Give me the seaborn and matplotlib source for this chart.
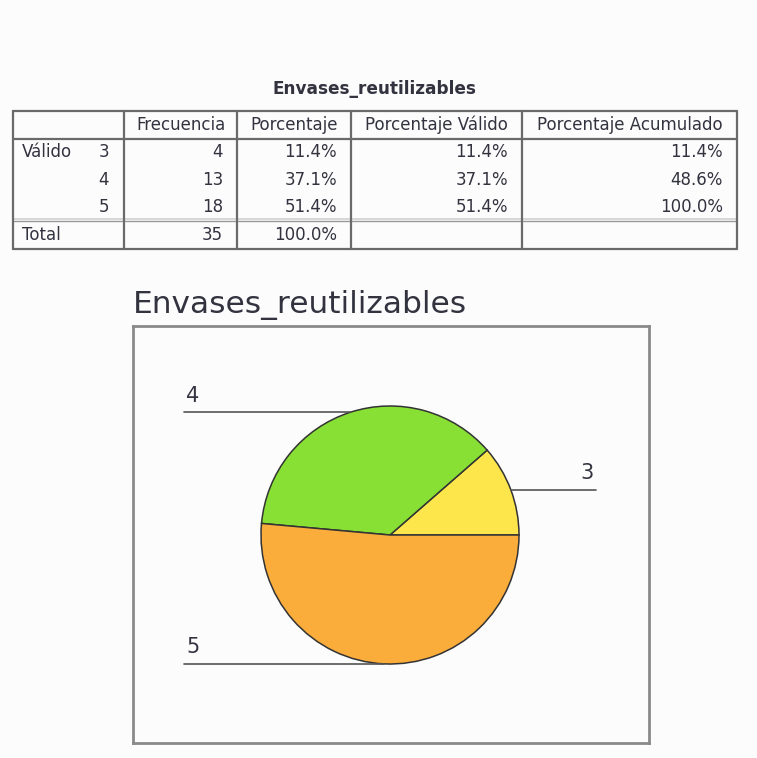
import matplotlib

matplotlib.use("Agg")
import matplotlib.pyplot as plt
import numpy as np
import seaborn as sns

# data
title = "Envases_reutilizables"
categories = ["3", "4", "5"]
frecuencia = [4, 13, 18]
porcentaje = [11.4, 37.1, 51.4]
porcentaje_valido = [11.4, 37.1, 51.4]
porcentaje_acumulado = [11.4, 48.6, 100.0]
total_frecuencia = 35
total_porcentaje = 100.0
headers = ["Frecuencia", "Porcentaje", "Porcentaje Válido", "Porcentaje Acumulado"]
colors = ["#fde64b", "#88e034", "#fbad3c"]

sns.set_theme(style="white")
plt.rcParams["font.family"] = ["DejaVu Sans"]

W, H = 757, 758
bg = "#fcfcfc"
txt = "#333340"
fs = 12
fig = plt.figure(figsize=(W / 100, H / 100), dpi=100, facecolor=bg)

# overlay in pixel coordinates for the frequency table
ov = fig.add_axes([0, 0, 1, 1], facecolor="none")
ov.set_xlim(0, W)
ov.set_ylim(H, 0)
ov.axis("off")

col_x = [13, 124, 237, 351, 522, 737]
row_y = [111, 139, 166, 193, 221, 249]

ov.text(374, 89, title, ha="center", va="center", fontsize=12.2,
        fontweight="bold", color=txt)

# grid lines
dark = "#6a6a6a"
light = "#d0d0d0"
ov.plot([col_x[0], col_x[-1]], [row_y[0]] * 2, color=dark, lw=1.6)
ov.plot([col_x[0], col_x[-1]], [row_y[-1]] * 2, color=dark, lw=1.6)
ov.plot([col_x[0], col_x[-1]], [row_y[1]] * 2, color=dark, lw=1.6)
ov.plot([col_x[0], col_x[-1]], [row_y[4] - 2] * 2, color=light, lw=1.2)
ov.plot([col_x[0], col_x[-1]], [row_y[4]] * 2, color="#999999", lw=1.0)
for x in col_x:
    ov.plot([x, x], [row_y[0], row_y[-1]], color=dark, lw=1.6)

# header row
hy = (row_y[0] + row_y[1]) / 2
for i, h in enumerate(headers):
    ov.text((col_x[i + 1] + col_x[i + 2]) / 2, hy, h, ha="center", va="center",
            fontsize=fs, color=txt)

# data rows
for r, cat in enumerate(categories):
    y = (row_y[0] + row_y[1]) / 2 + 27.3 * (r + 1)
    if r == 0:
        ov.text(22, y, "Válido", ha="left", va="center", fontsize=fs, color=txt)
    ov.text(109, y, cat, ha="right", va="center", fontsize=fs, color=txt)
    vals = [f"{frecuencia[r]}", f"{porcentaje[r]:.1f}%",
            f"{porcentaje_valido[r]:.1f}%", f"{porcentaje_acumulado[r]:.1f}%"]
    for c, v in enumerate(vals):
        ov.text(col_x[c + 2] - 14, y, v, ha="right", va="center",
                fontsize=fs, color=txt)

ty = (row_y[4] + row_y[5]) / 2
ov.text(22, ty, "Total", ha="left", va="center", fontsize=fs, color=txt)
ov.text(col_x[2] - 14, ty, f"{total_frecuencia}", ha="right", va="center",
        fontsize=fs, color=txt)
ov.text(col_x[3] - 14, ty, f"{total_porcentaje:.1f}%", ha="right", va="center",
        fontsize=fs, color=txt)

# chart title
ov.text(133, 313, title, ha="left", va="baseline", fontsize=22.5, color=txt)

# pie chart box
bx0, by0, bx1, by1 = 133, 326, 649, 743
cx, cy, rad = 390, 535, 129
ax = fig.add_axes([bx0 / W, 1 - by1 / H, (bx1 - bx0) / W, (by1 - by0) / H])
ax.set_facecolor(bg)
ax.set_xticks([])
ax.set_yticks([])

wedges, _ = ax.pie(frecuencia, colors=colors, startangle=0, counterclock=True,
                   radius=1, center=(0, 0), frame=True,
                   wedgeprops=dict(edgecolor="#333333", linewidth=1.1))
ax.set_xlim(-(cx - bx0) / rad, (bx1 - cx) / rad)
ax.set_ylim(-(by1 - cy) / rad, (cy - by0) / rad)
ax.set_aspect("auto")
ax.set_xticks([])
ax.set_yticks([])
for s in ax.spines.values():
    s.set_visible(True)
    s.set_color("#8a8a8a")
    s.set_linewidth(2)

end_x = 1.6
for w, cat in zip(wedges, categories):
    ang = np.deg2rad((w.theta1 + w.theta2) / 2)
    px, py = np.cos(ang), np.sin(ang)
    side = 1 if px > 0.2 else -1
    ex = side * end_x
    ax.plot([px, ex], [py, py], color="#555555", lw=1.2)
    ax.text(ex - side * 0.02, py + 0.05, cat, ha="right" if side > 0 else "left",
            va="bottom", fontsize=15, color=txt)

fig.savefig("out.png", dpi=100, facecolor=bg)
